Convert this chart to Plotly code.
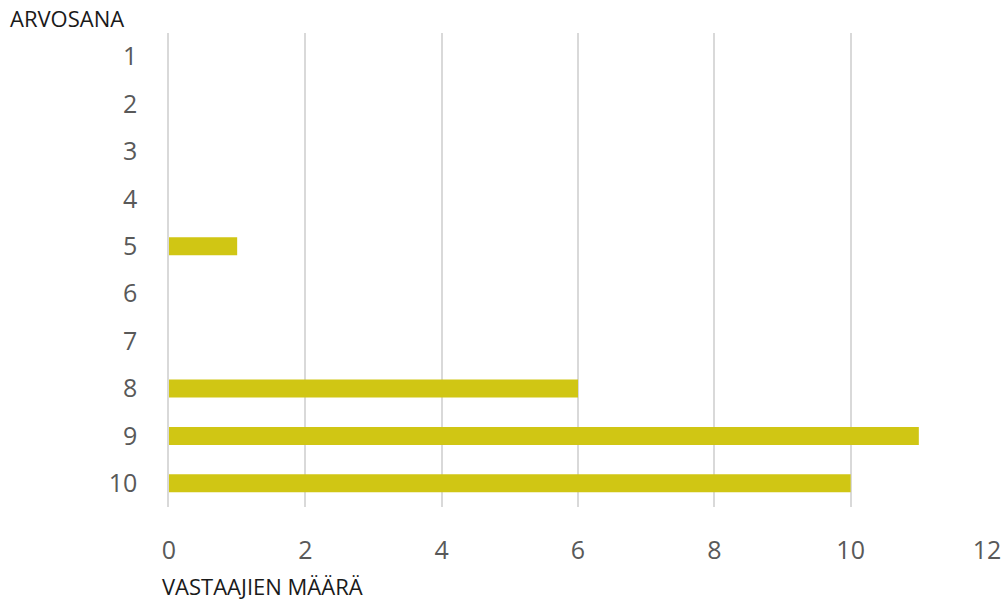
import plotly.graph_objects as go

categories = ["1", "2", "3", "4", "5", "6", "7", "8", "9", "10"]
values = [0, 0, 0, 0, 1, 0, 0, 6, 11, 10]
x_ticks = [0, 2, 4, 6, 8, 10, 12]

fig = go.Figure(go.Bar(
    x=values, y=categories, orientation="h",
    marker=dict(color="#D0C614", line=dict(width=0)),
))

fig.update_layout(
    width=1005, height=601,
    margin=dict(l=169, r=18, t=33, b=94, autoexpand=False),
    paper_bgcolor="white", plot_bgcolor="white",
    bargap=0.62,
    showlegend=False,
    font=dict(family="Open Sans, Noto Sans, sans-serif"),
)
fig.update_xaxes(
    range=[0, 12], tickvals=x_ticks, showgrid=True, gridcolor="#D9D9D9", gridwidth=1.5,
    zeroline=False, showline=False, automargin=False,
    tickfont=dict(size=25, color="#595959"),
    ticks="outside", ticklen=21, tickcolor="rgba(0,0,0,0)",
)
fig.update_yaxes(
    categoryorder="array", categoryarray=categories, autorange="reversed",
    showgrid=False, zeroline=False, showline=True, linecolor="#D9D9D9", linewidth=1.5,
    automargin=False,
    tickfont=dict(size=25, color="#595959"),
    ticks="outside", ticklen=25, tickcolor="rgba(0,0,0,0)",
)
fig.add_annotation(text="ARVOSANA", xref="paper", yref="paper", x=-161/818, y=1,
                   xanchor="left", yanchor="middle", yshift=15, showarrow=False,
                   font=dict(size=22, color="#1A1A1A"))
fig.add_annotation(text="VASTAAJIEN MÄÄRÄ", xref="paper", yref="paper", x=-9/818, y=0,
                   xanchor="left", yanchor="middle", yshift=-79, showarrow=False,
                   font=dict(size=22, color="#1A1A1A"))

fig.write_html("out.html")
